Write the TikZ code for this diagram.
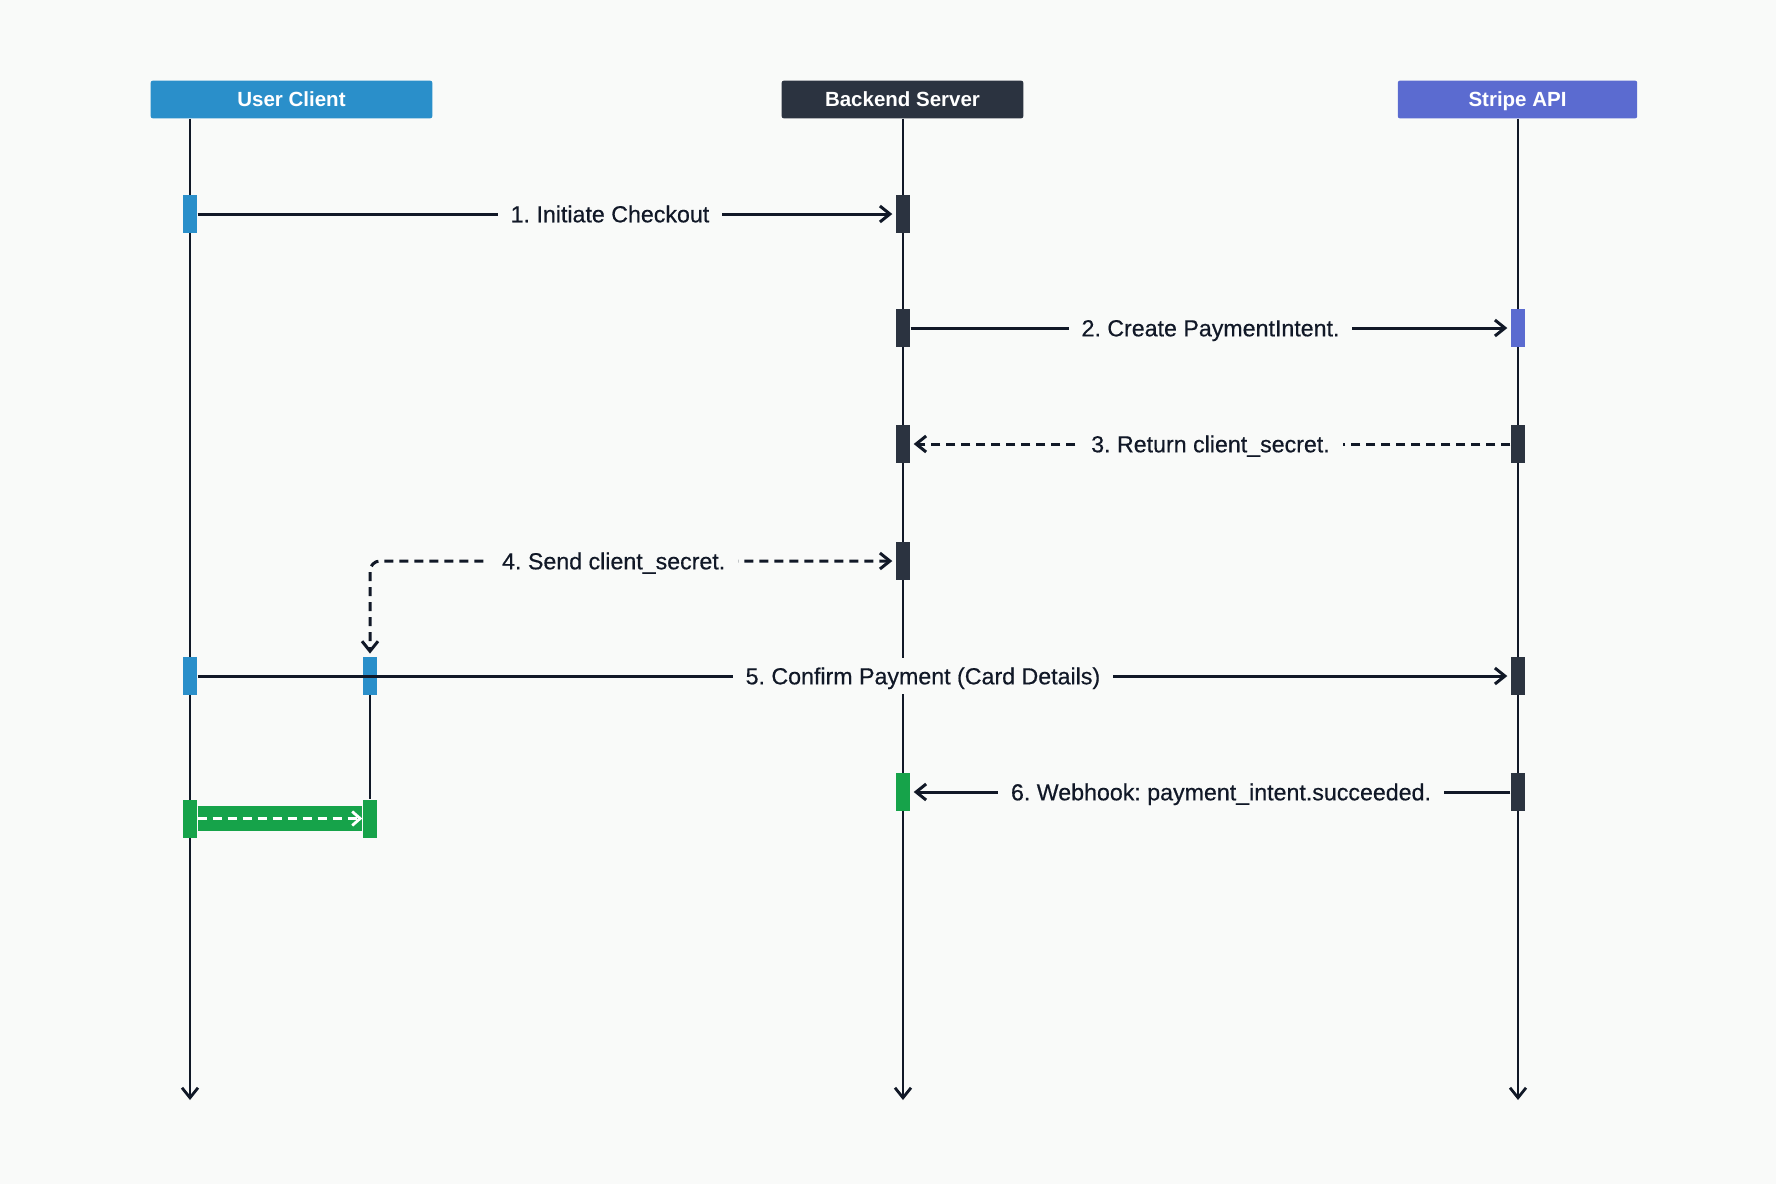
\documentclass[tikz,border=0pt]{standalone}
\usepackage{fontspec}
\setmainfont{Liberation Sans}
\newfontfamily\lblfont{Liberation Sans}[FakeBold=0.5]
\frenchspacing
\usetikzlibrary{arrows.meta}
\definecolor{bgpage}{HTML}{F9FAF9}
\definecolor{inkdark}{HTML}{111827}
\definecolor{clientblue}{HTML}{2A8FCA}
\definecolor{serverdark}{HTML}{2B3340}
\definecolor{stripeblue}{HTML}{5B6BD0}
\definecolor{hookgreen}{HTML}{16A34A}

\begin{document}
\begin{tikzpicture}[
    x=0.5pt, y=-0.5pt,
    head/.style={rectangle, rounded corners=1pt, minimum height=18.8pt,
                 inner sep=0pt, text=white, text height=7.4pt, text depth=0pt,
                 font=\fontsize{10.25}{12}\selectfont\bfseries},
    act/.style={rectangle, minimum width=7.3pt, minimum height=19pt, inner sep=0pt},
    life/.style={draw=inkdark, line width=1.4pt},
    msg/.style={draw=inkdark, line width=1.5pt, shorten >=1.5pt,
                -{Straight Barb[length=5pt, width=8pt]}},
    reply/.style={msg, dash pattern=on 4.5pt off 3pt},
    lbl/.style={fill=bgpage, text=inkdark, text height=8.3pt, text depth=0pt,
                inner xsep=6.5pt, inner ysep=5pt,
                font=\fontsize{11.6}{14}\lblfont}
  ]
    \fill[bgpage] (0,0) rectangle (1776,1184);

    % participants
    \node[head, fill=clientblue, minimum width=140.8pt] (user) at (291.5,99.5) {User Client};
    \node[head, fill=serverdark, minimum width=120.8pt] (server) at (902.5,99.5) {Backend Server};
    \node[head, fill=stripeblue, minimum width=119.7pt] (stripe) at (1517.5,99.5) {Stripe API};

    % lifelines
    \coordinate (userend) at (190,1100);
    \coordinate (serverend) at (903,1100);
    \coordinate (stripeend) at (1518,1100);
    \draw[life, -{Straight Barb[length=5pt, width=8pt]}] (user.south -| userend) -- (userend);
    \draw[life, -{Straight Barb[length=5pt, width=8pt]}] (server.south -| serverend) -- (serverend);
    \draw[life, -{Straight Barb[length=5pt, width=8pt]}] (stripe.south -| stripeend) -- (stripeend);

    % activations
    \node[act, fill=clientblue] (u1) at (190,214) {};
    \node[act, fill=serverdark] (s1) at (903,214) {};
    \node[act, fill=serverdark] (s2) at (903,328) {};
    \node[act, fill=stripeblue] (p2) at (1518,328) {};
    \node[act, fill=serverdark] (s3) at (903,444) {};
    \node[act, fill=serverdark] (p3) at (1518,444) {};
    \node[act, fill=serverdark] (s4) at (903,561) {};
    \node[act, fill=clientblue] (u5) at (190,676) {};
    \node[act, fill=clientblue] (w5) at (370,676) {};
    \node[act, fill=serverdark] (p5) at (1518,676) {};
    \node[act, fill=hookgreen] (s6) at (903,792) {};
    \node[act, fill=serverdark] (p6) at (1518,792) {};
    \node[act, fill=hookgreen] (u7) at (190,818.5) {};
    \node[act, fill=hookgreen] (w7) at (370,818.5) {};

    \draw[life] (w5) -- (w7);

    % messages
    \draw[msg] (u1) -- (s1) node[lbl, pos=0.591] {1. Initiate Checkout};
    \draw[msg] (s2) -- (p2) node[lbl, pos=0.5] {2. Create PaymentIntent.};
    \draw[reply] (p3) -- (s3) node[lbl, pos=0.5] {3. Return client\_secret.};
    \draw[reply, shorten <=1.5pt,
          {Straight Barb[length=5pt, width=8pt]}-{Straight Barb[length=5pt, width=8pt]},
          rounded corners=5pt] (s4) -| (w5) node[lbl, pos=0.268] {4. Send client\_secret.};
    \draw[msg] (u5) -- (p5) node[lbl, pos=0.5525] {5. Confirm Payment (Card Details)};
    \draw[msg] (p6) -- (s6) node[lbl, pos=0.4825] {6. Webhook: payment\_intent.succeeded.};

    % local update
    \draw[hookgreen, line width=12.3pt] (u7) -- (w7);
    \draw[white, line width=1.4pt, dash pattern=on 4.5pt off 3pt,
          -{Straight Barb[length=4pt, width=7pt]}] (u7) -- (w7);
  \end{tikzpicture}
\end{document}
